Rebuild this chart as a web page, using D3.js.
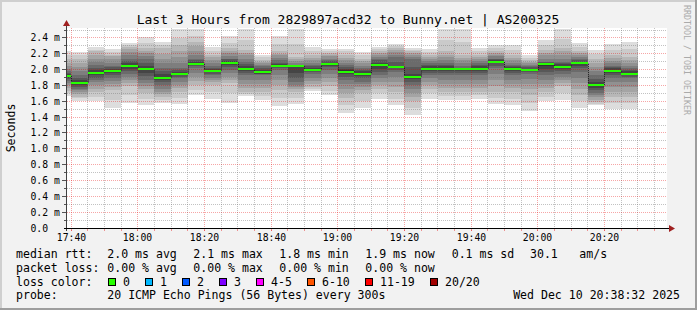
<!DOCTYPE html>
<html>
<head>
<meta charset="utf-8">
<script src="https://cdn.jsdelivr.net/npm/d3@7"></script>
<style>
  html, body { margin: 0; padding: 0; background: #f2f2f2; }
  svg { display: block; }
  text { font-family: "DejaVu Sans Mono", monospace; fill: #000; }
</style>
</head>
<body>
<div class="smokeping-graphic"></div>
<script>

////////// DATA //////////

var title = "Last 3 Hours from 2829897acd32 to Bunny.net | AS200325";

// end of each 5 minute step
var stepEnds = ["17:40","17:45","17:50","17:55","18:00","18:05","18:10","18:15","18:20","18:25",
  "18:30","18:35","18:40","18:45","18:50","18:55","19:00","19:05","19:10","19:15",
  "19:20","19:25","19:30","19:35","19:40","19:45","19:50","19:55","20:00","20:05",
  "20:10","20:15","20:20","20:25","20:30"];

// median rtt (ms) per step
var medianMs = [1.92,1.835,1.958,1.987,2.046,2.008,1.90,1.945,2.075,1.987,
  2.088,2.008,1.97,2.046,2.046,1.996,2.075,1.975,1.95,2.06,
  2.035,1.911,2.013,2.013,2.013,2.013,2.10,2.013,1.996,2.067,
  2.038,2.08,1.80,1.987,1.95];

// 20 sorted pings (ms) per step
var pingsMs = [
  [1.67,1.70,1.73,1.77,1.80,1.83,1.86,1.88,1.90,1.91,1.93,1.94,1.96,1.98,2.01,2.05,2.09,2.13,2.18,2.24],
  [1.61,1.64,1.66,1.69,1.72,1.74,1.76,1.78,1.80,1.82,1.85,1.87,1.90,1.93,1.98,2.03,2.08,2.13,2.18,2.22],
  [1.61,1.66,1.72,1.76,1.80,1.84,1.87,1.90,1.93,1.95,1.97,1.99,2.02,2.06,2.10,2.14,2.19,2.23,2.25,2.28],
  [1.52,1.62,1.74,1.78,1.82,1.86,1.89,1.93,1.96,1.98,2.00,2.01,2.03,2.05,2.09,2.13,2.17,2.19,2.22,2.26],
  [1.58,1.68,1.79,1.83,1.87,1.91,1.94,1.98,2.01,2.04,2.06,2.08,2.11,2.14,2.18,2.22,2.26,2.29,2.31,2.34],
  [1.55,1.63,1.70,1.75,1.79,1.83,1.87,1.92,1.96,1.99,2.02,2.05,2.09,2.14,2.17,2.21,2.24,2.27,2.34,2.41],
  [1.58,1.62,1.66,1.69,1.72,1.76,1.80,1.84,1.87,1.89,1.91,1.94,1.98,2.02,2.08,2.14,2.20,2.27,2.31,2.35],
  [1.56,1.64,1.72,1.77,1.81,1.85,1.89,1.91,1.93,1.94,1.95,1.97,1.99,2.02,2.09,2.16,2.24,2.31,2.40,2.51],
  [1.68,1.74,1.81,1.86,1.91,1.96,2.02,2.04,2.06,2.07,2.08,2.10,2.12,2.14,2.19,2.24,2.30,2.35,2.42,2.51],
  [1.63,1.72,1.81,1.84,1.87,1.90,1.93,1.95,1.97,1.98,1.99,2.01,2.02,2.04,2.08,2.12,2.16,2.19,2.24,2.29],
  [1.58,1.70,1.83,1.87,1.91,1.96,2.00,2.03,2.06,2.08,2.10,2.11,2.13,2.14,2.17,2.21,2.24,2.27,2.34,2.42],
  [1.67,1.69,1.72,1.77,1.82,1.87,1.93,1.96,1.98,2.00,2.02,2.04,2.07,2.10,2.14,2.18,2.21,2.25,2.38,2.51],
  [1.62,1.67,1.72,1.77,1.82,1.87,1.93,1.94,1.95,1.96,1.98,2.00,2.02,2.04,2.06,2.08,2.10,2.12,2.16,2.19],
  [1.54,1.64,1.74,1.80,1.87,1.93,2.00,2.02,2.03,2.04,2.05,2.07,2.09,2.12,2.15,2.18,2.20,2.23,2.32,2.42],
  [1.56,1.64,1.72,1.75,1.78,1.81,1.85,1.90,1.96,2.04,2.05,2.055,2.06,2.065,2.09,2.11,2.14,2.16,2.33,2.51],
  [1.73,1.75,1.78,1.82,1.86,1.90,1.95,1.97,1.98,1.99,2.00,2.02,2.04,2.06,2.09,2.12,2.15,2.19,2.24,2.29],
  [1.68,1.73,1.79,1.84,1.89,1.94,2.00,2.03,2.05,2.07,2.08,2.09,2.11,2.12,2.14,2.17,2.19,2.21,2.24,2.26],
  [1.45,1.55,1.64,1.70,1.76,1.82,1.87,1.91,1.94,1.96,1.99,2.01,2.03,2.06,2.09,2.12,2.15,2.19,2.23,2.26],
  [1.51,1.61,1.70,1.74,1.78,1.82,1.85,1.89,1.92,1.94,1.96,1.98,2.00,2.02,2.05,2.08,2.11,2.14,2.18,2.22],
  [1.63,1.70,1.76,1.80,1.85,1.89,1.93,1.97,2.01,2.04,2.07,2.09,2.12,2.14,2.16,2.19,2.21,2.23,2.26,2.29],
  [1.55,1.63,1.72,1.78,1.85,1.91,1.975,2.00,2.02,2.03,2.035,2.05,2.10,2.16,2.19,2.22,2.25,2.27,2.30,2.32],
  [1.43,1.51,1.60,1.65,1.70,1.75,1.81,1.85,1.88,1.90,1.92,1.95,2.03,2.14,2.16,2.18,2.21,2.23,2.25,2.27],
  [1.63,1.70,1.76,1.80,1.85,1.89,1.93,1.96,1.98,2.00,2.02,2.04,2.06,2.08,2.11,2.13,2.16,2.185,2.22,2.26],
  [1.62,1.67,1.72,1.77,1.82,1.87,1.93,1.96,1.98,2.00,2.02,2.04,2.06,2.08,2.12,2.16,2.19,2.23,2.37,2.51],
  [1.62,1.67,1.72,1.77,1.82,1.87,1.93,1.96,1.98,2.00,2.01,2.015,2.02,2.04,2.08,2.12,2.15,2.185,2.35,2.51],
  [1.63,1.68,1.72,1.77,1.82,1.87,1.93,1.96,1.98,2.00,2.02,2.04,2.06,2.08,2.11,2.14,2.16,2.185,2.23,2.27],
  [1.57,1.64,1.72,1.79,1.87,1.94,2.02,2.05,2.08,2.09,2.11,2.12,2.13,2.14,2.17,2.19,2.21,2.23,2.27,2.31],
  [1.55,1.63,1.72,1.77,1.82,1.87,1.93,1.96,1.98,2.00,2.02,2.03,2.05,2.06,2.09,2.12,2.15,2.185,2.25,2.31],
  [1.48,1.58,1.68,1.75,1.82,1.88,1.95,1.97,1.98,1.99,2.00,2.01,2.03,2.04,2.06,2.08,2.10,2.12,2.15,2.185],
  [1.61,1.66,1.72,1.77,1.82,1.87,1.93,1.97,2.01,2.05,2.085,2.09,2.095,2.10,2.14,2.18,2.21,2.25,2.31,2.375],
  [1.62,1.70,1.79,1.83,1.87,1.91,1.95,1.98,2.01,2.03,2.05,2.07,2.08,2.10,2.14,2.18,2.23,2.27,2.39,2.51],
  [1.52,1.60,1.68,1.75,1.83,1.90,1.975,2.02,2.05,2.07,2.09,2.10,2.12,2.14,2.16,2.19,2.21,2.23,2.28,2.337],
  [1.55,1.57,1.59,1.62,1.65,1.68,1.71,1.74,1.77,1.79,1.81,1.84,1.88,1.93,1.98,2.03,2.08,2.14,2.20,2.25],
  [1.50,1.58,1.66,1.72,1.78,1.84,1.89,1.93,1.96,1.98,2.00,2.02,2.03,2.04,2.08,2.11,2.15,2.185,2.25,2.32],
  [1.50,1.58,1.66,1.72,1.78,1.84,1.89,1.91,1.93,1.94,1.96,1.98,2.00,2.02,2.05,2.09,2.12,2.16,2.26,2.35]
];

// legend texts
var rttStats = ["2.0 ms avg", "2.1 ms max", "1.8 ms min", "1.9 ms now", "0.1 ms sd", "30.1", "am/s"];
var lossStats = ["0.00 % avg", "0.00 % max", "0.00 % min", "0.00 % now"];
var lossLabels = ["0", "1", "2", "3", "4-5", "6-10", "11-19", "20/20"];
var lossColours = ["#26ff00", "#00b8ff", "#0059ff", "#7e00ff", "#ff00ff", "#ff5500", "#ff0000", "#a10000"];
var probeText = "20 ICMP Echo Pings (56 Bytes) every 300s";
var stampText = "Wed Dec 10 20:38:32 2025";


////////// SETUP //////////

var width = 697, height = 310;
var plot = {left: 67, right: 667, top: 28, bottom: 228};

var parseTime = d3.timeParse("%H:%M:%S");
var startTime = parseTime("17:38:48"),
    endTime = parseTime("20:38:48");

var x = d3.scaleTime()
    .domain([startTime, endTime])
    .range([plot.left, plot.right]);

var y = d3.scaleLinear()
    .domain([0, 2.5263])
    .range([plot.bottom, plot.top]);

function px(v) { return Math.floor(v) + 0.5; }

var svg = d3.select(".smokeping-graphic")
  .append("svg")
    .attr("width", width)
    .attr("height", height);

// background + 3d frame
svg.append("rect").attr("width", width).attr("height", height).attr("fill", "#f2f2f2");
svg.append("path").attr("d", "M0,0H697V2H2V310H0Z").attr("fill", "#cfcfcf");
svg.append("path").attr("d", "M697,0V310H0V308H695V0Z").attr("fill", "#9e9e9e");

svg.append("rect")
    .attr("x", plot.left).attr("y", plot.top)
    .attr("width", plot.right - plot.left).attr("height", plot.bottom - plot.top)
    .attr("fill", "#ffffff");

svg.append("defs").append("clipPath").attr("id", "plot-clip")
  .append("rect")
    .attr("x", plot.left).attr("y", plot.top)
    .attr("width", plot.right - plot.left).attr("height", plot.bottom - plot.top);


////////// SMOKE //////////

var cols = stepEnds.map(function(s, i) {
  var t1 = parseTime(s + ":00");
  var t0 = d3.timeMinute.offset(t1, -5);
  if (t0 < startTime) t0 = startTime;
  return {x0: Math.round(x(t0)), x1: Math.round(x(t1)), pings: pingsMs[i], median: medianMs[i]};
});

var smoke = svg.append("g").attr("class", "smoke").attr("clip-path", "url(#plot-clip)");
var half = 10;

cols.forEach(function(c) {
  for (var ibot = 1; ibot <= half; ibot++) {
    var itop = 21 - ibot;
    var g = Math.floor(190 / half * (half - ibot)) + 50;
    var yt = Math.round(y(c.pings[itop - 1])),
        yb = Math.round(y(c.pings[ibot - 1]));
    smoke.append("rect")
        .attr("x", c.x0)
        .attr("width", c.x1 - c.x0)
        .attr("y", yt)
        .attr("height", Math.max(yb - yt, 1))
        .attr("fill", d3.rgb(g, g, g));
  }
});


////////// GRID //////////

var grid = svg.append("g").attr("class", "grid");
var xMinor = x.ticks(d3.timeMinute.every(5));
var xMajor = x.ticks(d3.timeMinute.every(20));
var yAll = d3.range(1, 26).map(function(i) { return i / 10; });
var yMajor = d3.range(0, 13).map(function(i) { return i / 5; });

grid.selectAll(".xminor")
  .data(xMinor.filter(function(d) { return d.getMinutes() % 20 != 0; }))
  .enter().append("line")
    .attr("x1", function(d) { return px(x(d)); })
    .attr("x2", function(d) { return px(x(d)); })
    .attr("y1", plot.top).attr("y2", plot.bottom)
    .attr("stroke", "rgba(120,120,120,0.45)")
    .attr("stroke-dasharray", "1,1");

grid.selectAll(".yminor")
  .data(yAll.filter(function(d, i) { return i % 2 == 0; }))
  .enter().append("line")
    .attr("x1", plot.left).attr("x2", plot.right)
    .attr("y1", function(d) { return px(y(d)); })
    .attr("y2", function(d) { return px(y(d)); })
    .attr("stroke", "rgba(120,120,120,0.45)")
    .attr("stroke-dasharray", "1,1");

grid.selectAll(".xmajor")
  .data(xMajor)
  .enter().append("line")
    .attr("x1", function(d) { return px(x(d)); })
    .attr("x2", function(d) { return px(x(d)); })
    .attr("y1", plot.top).attr("y2", plot.bottom + 3)
    .attr("stroke", "rgba(230,0,0,0.35)")
    .attr("stroke-dasharray", "1,1");

grid.selectAll(".ymajor")
  .data(yMajor.slice(1))
  .enter().append("line")
    .attr("x1", plot.left).attr("x2", plot.right)
    .attr("y1", function(d) { return px(y(d)); })
    .attr("y2", function(d) { return px(y(d)); })
    .attr("stroke", "rgba(230,0,0,0.35)")
    .attr("stroke-dasharray", "1,1");

// little ticks under the x axis
grid.selectAll(".xtick")
  .data(xMinor)
  .enter().append("line")
    .attr("x1", function(d) { return px(x(d)); })
    .attr("x2", function(d) { return px(x(d)); })
    .attr("y1", plot.bottom + 1).attr("y2", plot.bottom + 3)
    .attr("stroke", "rgba(230,0,0,0.4)");

// ticks left of the y axis
grid.selectAll(".ytick")
  .data(yAll)
  .enter().append("line")
    .attr("x1", function(d, i) { return i % 2 == 1 ? plot.left - 5 : plot.left - 3; })
    .attr("x2", plot.left)
    .attr("y1", function(d) { return px(y(d)); })
    .attr("y2", function(d) { return px(y(d)); })
    .attr("stroke", "#555");


////////// MEDIAN //////////

var stepPts = cols.map(function(c) { return [px(c.x0), y(c.median)]; });
stepPts.push([cols[cols.length - 1].x1, y(cols[cols.length - 1].median)]);

svg.append("path")
    .datum(stepPts)
    .attr("d", d3.line().curve(d3.curveStepAfter))
    .attr("fill", "none")
    .attr("stroke", "#202020")
    .attr("stroke-width", 1)
    .attr("stroke-dasharray", "1,1");

svg.append("g").attr("class", "median")
  .selectAll("rect")
  .data(cols)
  .enter().append("rect")
    .attr("x", function(d) { return d.x0; })
    .attr("width", function(d) { return d.x1 - d.x0; })
    .attr("y", function(d) { return Math.round(y(d.median)) - 1; })
    .attr("height", 2)
    .attr("fill", lossColours[0]);


////////// AXES //////////

svg.append("line")
    .attr("x1", px(plot.left - 1)).attr("x2", px(plot.left - 1))
    .attr("y1", plot.bottom + 3).attr("y2", plot.top - 4)
    .attr("stroke", "#404040");
svg.append("path")
    .attr("d", "M63,26L70,26L66.5,20Z")
    .attr("fill", "#a02020");

svg.append("line")
    .attr("x1", plot.left - 3).attr("x2", plot.right + 3)
    .attr("y1", px(plot.bottom)).attr("y2", px(plot.bottom))
    .attr("stroke", "#000");
svg.append("path")
    .attr("d", "M669,225L675,228.5L669,232Z")
    .attr("fill", "#a02020");

svg.append("g").attr("class", "ylabels")
  .selectAll("text")
  .data(yMajor)
  .enter().append("text")
    .attr("x", 30.5)
    .attr("y", function(d) { return px(y(d)) + 3.5; })
    .style("font-size", "9.75px")
    .text(function(d) { return d == 0 ? "0.0" : d.toFixed(1) + " m"; });

svg.append("g").attr("class", "xlabels")
  .selectAll("text")
  .data(xMajor)
  .enter().append("text")
    .attr("x", function(d) { return px(x(d)); })
    .attr("y", 241)
    .attr("text-anchor", "middle")
    .style("font-size", "9.75px")
    .text(d3.timeFormat("%H:%M"));


////////// TITLES //////////

svg.append("text")
    .attr("x", 348)
    .attr("y", 23.5)
    .attr("text-anchor", "middle")
    .style("font-size", "13px")
    .text(title);

svg.append("text")
    .attr("transform", "translate(15,128) rotate(-90)")
    .attr("text-anchor", "middle")
    .style("font-size", "11.55px")
    .text("Seconds");

svg.append("text")
    .attr("transform", "translate(684,5) rotate(90)")
    .style("font-size", "8.3px")
    .style("fill", "#aaaaaa")
    .text("RRDTOOL / TOBI OETIKER");


////////// LEGEND //////////

var legend = svg.append("g").attr("class", "legend").style("font-size", "11.55px");
var rowY = [258.3, 271.9, 285.5, 299.1];
var statX = [107.3, 193.3, 279.3, 365.3, 451.7, 530, 579.3];

legend.append("text").attr("x", 16).attr("y", rowY[0]).text("median rtt:");
legend.selectAll(".rtt").data(rttStats).enter().append("text")
    .attr("x", function(d, i) { return statX[i]; })
    .attr("y", rowY[0])
    .text(function(d) { return d; });

legend.append("text").attr("x", 16).attr("y", rowY[1]).text("packet loss:");
legend.selectAll(".loss").data(lossStats).enter().append("text")
    .attr("x", function(d, i) { return statX[i]; })
    .attr("y", rowY[1])
    .text(function(d) { return d; });

legend.append("text").attr("x", 16).attr("y", rowY[2]).text("loss color:");
var bx = 108;
lossLabels.forEach(function(lbl, i) {
  legend.append("rect")
      .attr("x", bx + 0.5).attr("y", 278.5)
      .attr("width", 7).attr("height", 7)
      .attr("fill", lossColours[i])
      .attr("stroke", "#000");
  legend.append("text").attr("x", bx + 15).attr("y", rowY[2]).text(lbl);
  bx += 30 + 7 * lbl.length;
});

legend.append("text").attr("x", 16).attr("y", rowY[3]).text("probe:");
legend.append("text").attr("x", 107.3).attr("y", rowY[3]).text(probeText);
legend.append("text").attr("x", 680).attr("y", rowY[3]).attr("text-anchor", "end").text(stampText);

</script>
</body>
</html>
